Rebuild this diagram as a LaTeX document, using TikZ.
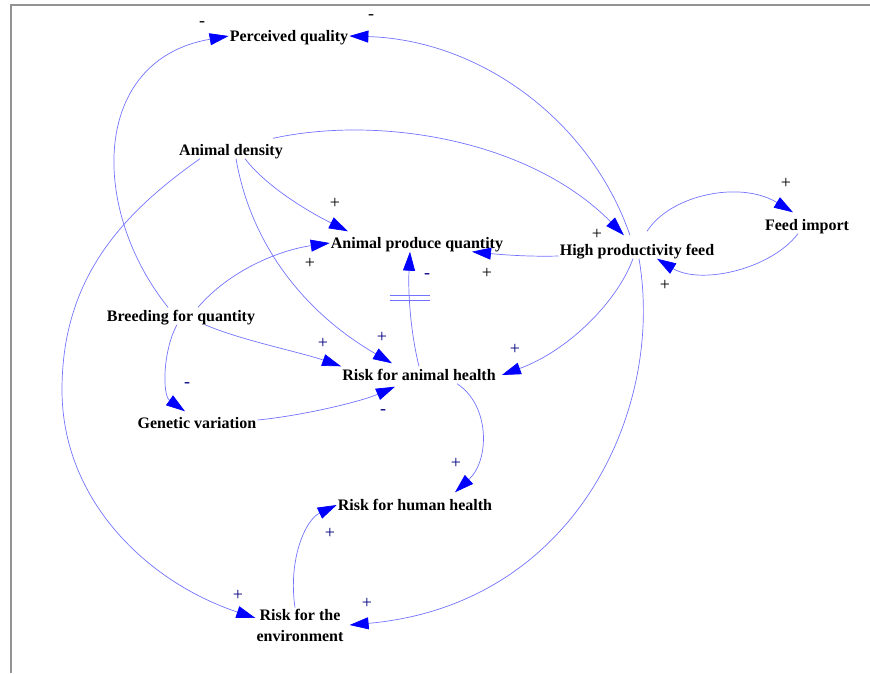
\documentclass[tikz,border=0pt]{standalone}
\usepackage{fontspec}
\setmainfont{Liberation Serif}
\usetikzlibrary{arrows.meta}
\colorlet{navy}{blue!50!black}

\begin{document}
\begin{tikzpicture}[x=1pt,y=-1pt,
    varbase/.style={font=\bfseries\fontsize{16}{21}\selectfont,inner sep=1pt},
    var/.style={varbase,text height=13pt,text depth=2pt},
    sign/.style={font=\fontsize{18}{18}\selectfont,inner sep=0pt},
    wire/.style={draw=blue!55,line width=0.7pt},
    link/.style={wire,-{Triangle[length=19pt,width=12pt,color=blue]}}]

    \useasboundingbox (0,0) rectangle (870,673);
    \draw[gray!85,line width=1.2pt] (870,5) -- (11,5) -- (11,673); % frame

    % variables
    \node[var] (pq) at (289,36) {Perceived quality};
    \node[var] (ad) at (231,150) {Animal density};
    \node[var] (apq) at (417,243) {Animal produce quantity};
    \node[var] (hpf) at (637,250) {High productivity feed};
    \node[var] (fi) at (807,225) {Feed import};
    \node[var] (bq) at (181,316) {Breeding for quantity};
    \node[var] (rah) at (419,375) {Risk for animal health};
    \node[var] (gv) at (197,423) {Genetic variation};
    \node[var] (rhh) at (415,505) {Risk for human health};
    \node[varbase,align=center] (renv) at (300,625) {Risk for the\\environment};

    % links
    \draw[link] ([xshift=-13pt]bq.north) .. controls (90,210) and (90,60) .. (pq.west);
    \draw[link] ([xshift=-7pt,yshift=6pt]hpf.north) .. controls (590,120) and (480,40) .. (pq.east);
    \draw[link] ([xshift=42pt,yshift=3pt]ad.north) .. controls (380,115) and (530,140) .. ([xshift=-13pt,yshift=6pt]hpf.north);
    \draw[link] ([xshift=14pt]ad.south) .. controls (265,185) and (305,210) .. ([xshift=-69pt,yshift=3pt]apq.north);
    \draw[link] ([xshift=5pt]ad.south) .. controls (250,240) and (300,310) .. ([xshift=-27pt,yshift=3pt]rah.north);
    \draw[link] ([xshift=-31pt]ad.south) .. controls (120,215) and (62,280) .. (62,390)
                .. controls (62,500) and (147,582) .. ([yshift=7pt]renv.west);
    \draw[link] ([xshift=17pt]bq.north) .. controls (230,270) and (280,250) .. (apq.west);
    \draw[link] ([yshift=-6pt]hpf.west) .. controls (525,257) and (495,254) .. ([xshift=55pt]apq.south);
    \draw[link] (rah.north) .. controls (410,330) and (408,290) .. coordinate[pos=0.6] (dly) ([xshift=-7pt]apq.south);
    \draw[wire] ([xshift=-20pt,yshift=2.5pt]dly) -- ([xshift=20pt,yshift=2.5pt]dly); % delay
    \draw[wire] ([xshift=-20pt,yshift=-2.5pt]dly) -- ([xshift=20pt,yshift=-2.5pt]dly);
    \draw[link] ([xshift=24pt]bq.south) .. controls (240,340) and (300,352) .. (rah.north west);
    \draw[link] ([xshift=-4pt]bq.south) .. controls (163,350) and (162,395) .. ([xshift=-12pt,yshift=3pt]gv.north);
    \draw[link] ([yshift=3pt]gv.east) .. controls (300,416) and (360,402) .. ([xshift=-24pt,yshift=-3pt]rah.south);
    \draw[link] ([xshift=-4pt]hpf.south) .. controls (618,300) and (570,350) .. ([xshift=5pt]rah.east);
    \draw[link] ([xshift=2pt]hpf.south) .. controls (665,410) and (575,605) .. ([xshift=5pt]renv.east);
    \draw[link] ([xshift=38pt]rah.south) .. controls (490,405) and (490,460) .. ([xshift=40pt,yshift=4pt]rhh.north);
    \draw[link] ([xshift=-5pt]renv.north) .. controls (288,560) and (305,520) .. (rhh.west);
    \draw[link] ([xshift=10pt,yshift=10pt]hpf.north) .. controls (670,195) and (740,180) .. ([xshift=-14pt,yshift=4pt]fi.north);
    \draw[link] ([xshift=-9pt]fi.south) .. controls (770,270) and (700,285) .. ([xshift=20pt]hpf.south);

    % polarities
    \foreach \nm/\px/\py/\sg in {s1/202/24/-,s2/371/17/-,s3/597/234/+,s4/335/203/+,
        s5/310/263/+,s6/487/273/+,s17/786/183/+,s18/665/285/+}
      \node[sign] (\nm) at (\px,\py) {\sg};
    \foreach \nm/\px/\py/\sg in {s7/427/276/-,s8/323/343/+,s9/382/337/+,s10/515/349/+,
        s11/187/385/-,s12/383/412/-,s13/456/463/+,s14/330/533/+,s15/238/595/+,s16/367/603/+}
      \node[sign,text=navy] (\nm) at (\px,\py) {\sg};

\end{tikzpicture}
\end{document}
